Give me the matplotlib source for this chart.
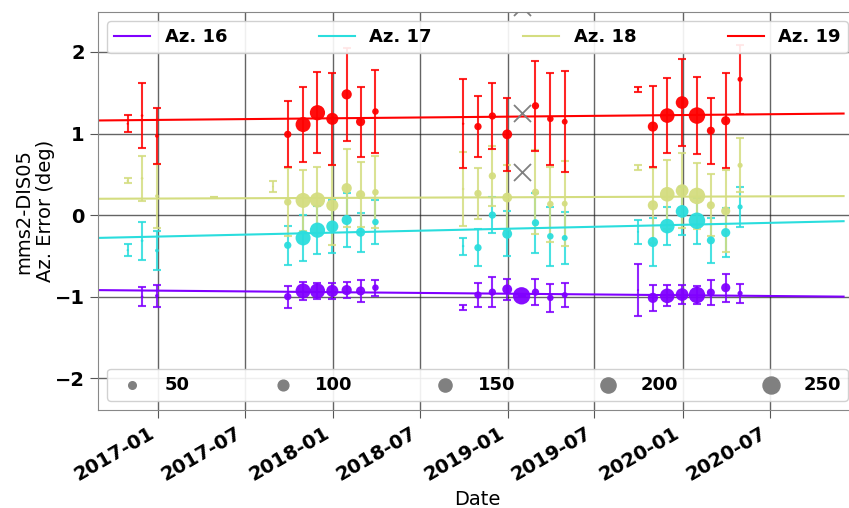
import numpy as np
import matplotlib
matplotlib.use('Agg')
from matplotlib import pyplot as plt
from matplotlib import dates as mdates

# sample dates shared by all azimuths
dates = np.array(['2016-10-30', '2016-11-29', '2016-12-30', '2017-04-28', '2017-08-29',
                  '2017-09-29', '2017-10-31', '2017-11-30', '2017-12-31', '2018-01-30',
                  '2018-02-28', '2018-03-31', '2018-09-30', '2018-10-31', '2018-11-30',
                  '2018-12-31', '2019-01-30', '2019-02-28', '2019-03-31', '2019-04-30',
                  '2019-09-30', '2019-10-31', '2019-11-30', '2019-12-31', '2020-01-31',
                  '2020-02-29', '2020-03-31', '2020-04-30'], dtype='datetime64[D]')

# number of samples per date (marker size)
counts = np.array([4, 6, 12, 3, 3, 46, 195, 200, 126, 90, 72, 37, 5, 46, 46, 84,
                   260, 46, 37, 30, 4, 90, 185, 140, 235, 56, 72, 23])

nan = np.nan
az16 = [nan, -1.0, -0.99, nan, nan, -1.0, -0.93, -0.93, -0.93, -0.92, -0.93, -0.89,
        -1.13, -0.98, -0.945, -0.91, -0.99, -0.945, -1.015, -0.98,
        -0.92, -1.015, -0.99, -0.975, -0.98, -0.95, -0.89, -0.96]
az16_err = [nan, 0.115, 0.135, nan, nan, 0.135, 0.11, 0.10, 0.10, 0.095, 0.13, 0.10,
            0.03, 0.145, 0.18, 0.13, 0.0, 0.16, 0.17, 0.15,
            0.32, 0.155, 0.13, 0.12, 0.11, 0.155, 0.17, 0.12]
az17 = [-0.43, -0.315, -0.435, nan, nan, -0.37, -0.28, -0.185, -0.14, -0.06, -0.21, -0.085,
        -0.38, -0.40, 0.0, -0.23, nan, -0.095, -0.26, -0.28,
        -0.205, -0.33, -0.135, 0.045, -0.07, -0.31, -0.215, 0.10]
az17_err = [0.077, 0.23, 0.24, nan, nan, 0.24, 0.285, 0.295, 0.33, 0.335, 0.24, 0.27,
            0.105, 0.23, 0.225, 0.275, nan, 0.37, 0.365, 0.32,
            0.145, 0.295, 0.235, 0.295, 0.28, 0.28, 0.30, 0.25]
az18 = [0.42, 0.45, 0.233, 0.22, 0.35, 0.16, 0.18, 0.185, 0.12, 0.33, 0.25, 0.28,
        0.32, 0.265, 0.48, 0.215, nan, 0.28, 0.135, 0.14,
        0.58, 0.12, 0.255, 0.30, 0.235, 0.12, 0.05, 0.61]
az18_err = [0.03, 0.28, 0.39, 0.0, 0.065, 0.42, 0.37, 0.40, 0.49, 0.48, 0.40, 0.44,
            0.455, 0.31, 0.365, 0.40, nan, 0.515, 0.46, 0.52,
            0.03, 0.46, 0.42, 0.46, 0.40, 0.38, 0.50, 0.33]
az19 = [1.12, 1.22, 0.97, nan, nan, 0.99, 1.11, 1.255, 1.18, 1.48, 1.145, 1.27,
        1.12, 1.085, 1.215, 0.99, nan, 1.34, 1.18, 1.145,
        1.545, 1.085, 1.22, 1.38, 1.22, 1.035, 1.157, 1.665]
az19_err = [0.105, 0.395, 0.34, nan, nan, 0.405, 0.46, 0.495, 0.565, 0.57, 0.43, 0.505,
            0.545, 0.37, 0.40, 0.45, nan, 0.555, 0.565, 0.62,
            0.03, 0.495, 0.46, 0.535, 0.47, 0.405, 0.58, 0.425]

# rejected points
outlier_dates = np.array(['2019-01-30', '2019-01-30', '2019-01-30'], dtype='datetime64[D]')
outlier_vals = [1.25, 0.53, 2.55]

# linear trend per azimuth, value at start and end date
trend_dates = np.array(['2016-08-29', '2020-12-02'], dtype='datetime64[D]')
trend16 = [-0.92, -1.0]
trend17 = [-0.28, -0.075]
trend18 = [0.20, 0.233]
trend19 = [1.16, 1.245]

labels = ['Az. 16', 'Az. 17', 'Az. 18', 'Az. 19']
size_levels = [50, 100, 150, 200, 250]

series = [(az16, az16_err, trend16), (az17, az17_err, trend17),
          (az18, az18_err, trend18), (az19, az19_err, trend19)]
colors = plt.cm.rainbow(np.linspace(0, 1, 4))
scale = 0.6

fig = plt.figure(figsize=(8.49, 5.08), dpi=100)
ax = fig.add_axes([98 / 849, 98 / 508, 759 / 849, 398 / 508])

lines = []
for (vals, errs, trend), col, lab in zip(series, colors, labels):
    vals = np.array(vals)
    errs = np.array(errs)
    ax.errorbar(dates, vals, yerr=errs, fmt='none', ecolor=col, elinewidth=1.5,
                capsize=3, capthick=1.5, alpha=0.85, zorder=2)
    ax.scatter(dates, vals, s=counts * scale, color=col, alpha=0.95, zorder=3,
               edgecolors='none')
    ln, = ax.plot(trend_dates, trend, color=col, lw=1.5, label=lab, zorder=2.5)
    lines.append(ln)

ax.scatter(outlier_dates, outlier_vals, marker='x', s=150, color='gray',
           linewidths=1.3, zorder=4)

ax.set_xlim(np.datetime64('2016-08-29'), np.datetime64('2020-12-30'))
ax.set_ylim(-2.39, 2.49)
ax.set_yticks([-2, -1, 0, 1, 2])
ax.xaxis.set_major_locator(mdates.MonthLocator(bymonth=[1, 7]))
ax.xaxis.set_major_formatter(mdates.DateFormatter('%Y-%m'))
ax.grid(True, color='#222222', lw=1.0, alpha=0.7)
ax.set_axisbelow(True)
for sp in ax.spines.values():
    sp.set_color('#888888')
ax.tick_params(axis='both', length=6, color='#555555', labelsize=14)
for t in ax.get_xticklabels():
    t.set_fontweight('bold')
    t.set_rotation(30)
    t.set_ha('right')
for t in ax.get_yticklabels():
    t.set_fontweight('bold')

ax.set_xlabel('Date', fontsize=14)
ax.set_ylabel('mms2-DIS05\nAz. Error (deg)', fontsize=14, labelpad=0)

leg1 = ax.legend(handles=lines, loc='upper left', bbox_to_anchor=(0, 0, 1, 1),
                 mode='expand', ncol=4, prop={'size': 13, 'weight': 'bold'},
                 framealpha=0.9)
ax.add_artist(leg1)

size_handles = [ax.scatter([], [], s=v * scale, color='gray') for v in size_levels]
ax.legend(size_handles, [str(v) for v in size_levels], loc='lower left',
          bbox_to_anchor=(0, 0, 1, 1), mode='expand', ncol=5,
          prop={'size': 13, 'weight': 'bold'}, framealpha=0.9)

fig.savefig('out.png', dpi=100)
